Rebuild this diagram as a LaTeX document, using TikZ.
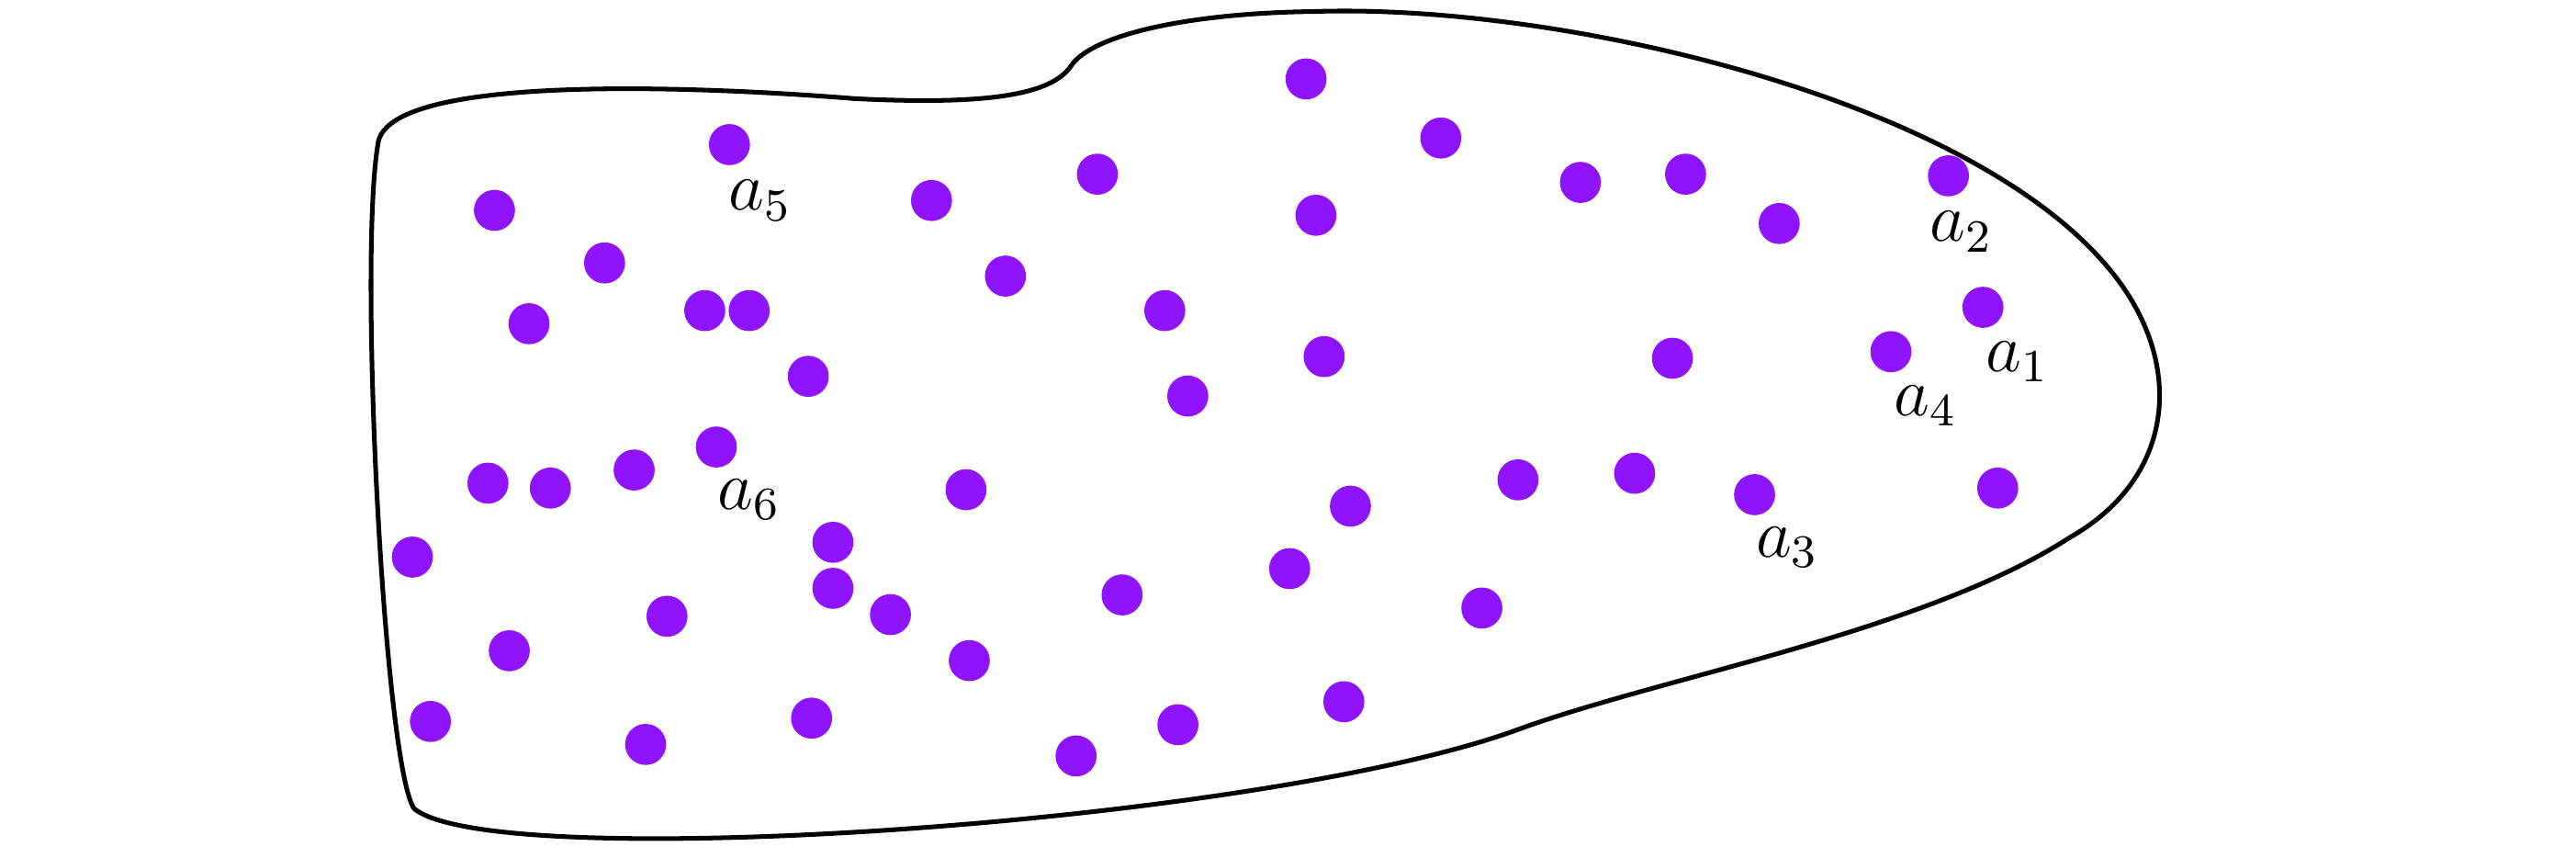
\documentclass[tikz,border=0pt]{standalone}
\usetikzlibrary{positioning,calc}
\definecolor{dotpurple}{RGB}{144,19,254}

\begin{document}
\begin{tikzpicture}[
    x=0.1mm, y=-0.1mm,
    dot/.style={circle, fill=dotpurple, inner sep=0pt, minimum size=2.5mm},
    tag/.style={font=\fontsize{12}{14}\selectfont, inner sep=0pt},
    region/.style={draw=black, line width=0.8pt}
]
\useasboundingbox (0,0) rectangle (1568,522);

% Region outline
\draw[region] (252,492) .. controls (234,465) and (218,160) .. (230,88)
    .. controls (234,45) and (420,52) .. (520,60)
    .. controls (600,64) and (640,58) .. (652,40)
    .. controls (664,22) and (720,8) .. (800,7)
    .. controls (950,2) and (1200,60) .. (1285,165)
    .. controls (1330,220) and (1325,290) .. (1260,327)
    .. controls (1170,385) and (1010,412) .. (921,445)
    .. controls (760,502) and (300,532) .. cycle;

% Points (the first six get a label)
\foreach \x/\y [count=\i] in {1207/187, 1186/107, 1068/301, 1151/214, 444/88, 436/272,
    301/128, 368/160, 322/197, 429/189, 456/189, 492/229, 567/122, 668/106,
    612/168, 709/189, 723/241, 795/48, 877/84, 801/131, 806/217, 962/111,
    1026/106, 1083/136, 1018/218, 297/294, 335/297, 386/286, 588/298, 822/308,
    924/292, 995/288, 1216/297, 251/339, 507/330, 507/358, 542/374, 406/375,
    310/396, 590/402, 683/362, 785/346, 902/370, 262/439, 393/453, 494/437,
    655/460, 717/441, 818/427}
    \node[dot] (d\i) at (\x,\y) {};

% Labels
\node[tag] (a1) at ([shift={(21,33)}]d1) {$a_1$};
\node[tag] (a2) at ([shift={(8,34)}]d2) {$a_2$};
\node[tag] (a3) at ([shift={(20,32)}]d3) {$a_3$};
\node[tag] (a4) at ([shift={(21,33)}]d4) {$a_4$};
\node[tag] (a5) at ([shift={(19,34)}]d5) {$a_5$};
\node[tag] (a6) at ([shift={(20,32)}]d6) {$a_6$};

\end{tikzpicture}
\end{document}
